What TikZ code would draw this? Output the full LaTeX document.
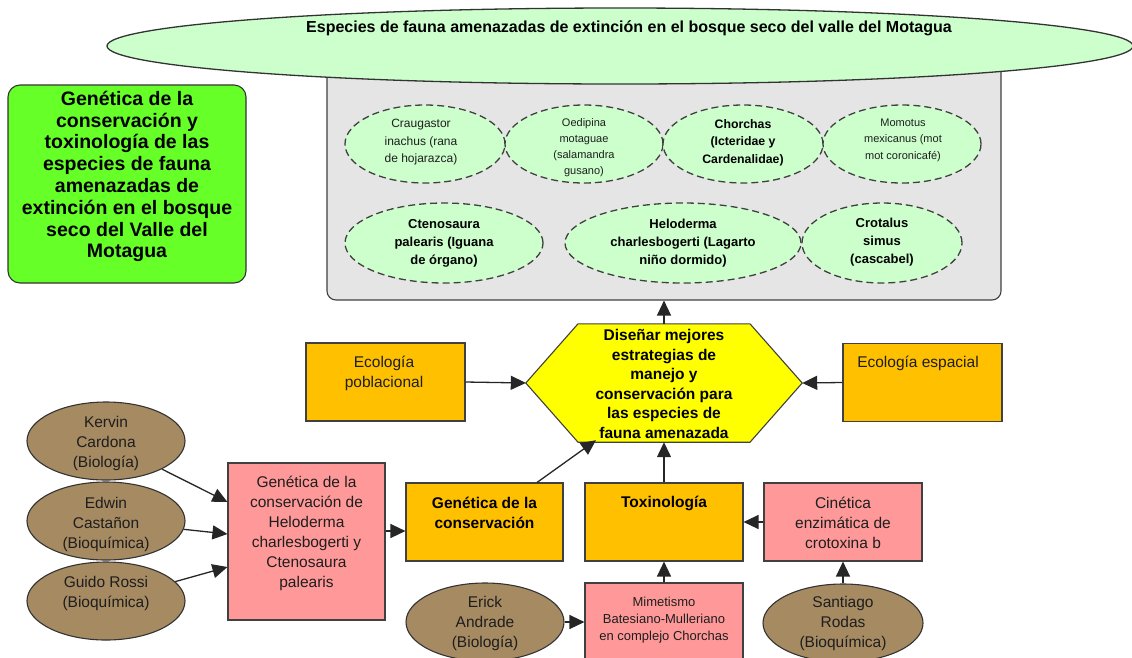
\documentclass[tikz,border=0pt]{standalone}
\usepackage{fontspec}
\setmainfont{Liberation Sans}
\usetikzlibrary{arrows.meta,shapes.geometric}

\definecolor{lgreen}{RGB}{204,255,204}
\definecolor{panelgray}{RGB}{229,229,229}
\definecolor{vivid}{RGB}{102,255,40}
\definecolor{amber}{RGB}{255,192,0}
\definecolor{rose}{RGB}{255,153,153}
\definecolor{tan}{RGB}{165,138,98}
\definecolor{hexyellow}{RGB}{255,255,0}
\definecolor{ink}{RGB}{30,30,30}

\newcommand\fsz[2]{\fontsize{#1}{#2}\selectfont}

\begin{document}
\begin{tikzpicture}[x=1pt,y=-1pt,
  box/.style={rectangle, draw=black!75, line width=1.1pt, minimum width=158pt, minimum height=78pt, inner sep=0pt},
  orangebox/.style={box, fill=amber},
  pinkbox/.style={box, fill=rose},
  person/.style={ellipse, draw=black!80, line width=1.1pt, fill=tan, minimum width=158pt, minimum height=78pt, inner sep=0pt},
  species/.style={ellipse, draw=black!75, line width=1.3pt, dash pattern=on 7pt off 4pt, fill=lgreen, minimum height=78pt, inner sep=0pt},
  txt/.style={align=center, text=ink, inner sep=0pt},
  body/.style={txt, font=\fsz{15.5}{20}},
  arr/.style={draw=black!85, line width=1.3pt, -{Triangle[length=15pt,width=14pt]}}
]
\useasboundingbox (0,0) rectangle (1132,657);
\clip (0,0) rectangle (1132,657);

% panel holding the species
\node[rectangle, rounded corners=9pt, draw=black!75, line width=1.1pt, fill=panelgray,
      minimum width=674pt, minimum height=260pt, inner sep=0pt] (panel) at (664,170) {};

% heading ellipse
\node[ellipse, draw=black!80, line width=1.3pt, fill=lgreen, minimum width=1026pt,
      minimum height=76pt, inner sep=0pt] (title) at (620,46) {};
\node[txt, text=black, font=\bfseries\fsz{16}{19}] (title-t) at (629,28)
  {Especies de fauna amenazadas de extinción en el bosque seco del valle del Motagua};

% project title box
\node[rectangle, rounded corners=12pt, draw=black!80, line width=1.1pt, fill=vivid,
      minimum width=238pt, minimum height=198pt, inner sep=0pt] (main) at (127,184) {};
\node[txt, text=black, font=\bfseries\fsz{19.5}{21.8}] (main-t) at (127,176.5)
  {Genética de la\\conservación y\\toxinología de las\\especies de fauna\\amenazadas de\\extinción en el bosque\\seco del Valle del\\Motagua};

% species
\node[species, minimum width=160pt] (s1) at (425,144) {};
\node[txt, font=\fsz{12}{17.5}] (s1-t) at (421,142.5) {Craugastor\\inachus (rana\\de hojarazca)};
\node[species, minimum width=158pt] (s2) at (584,144) {};
\node[txt, font=\fsz{11}{16}] (s2-t) at (584,148) {Oedipina\\motaguae\\(salamandra\\gusano)};
\node[species, minimum width=160pt] (s3) at (743,144) {};
\node[txt, text=black, font=\bfseries\fsz{12.3}{17.5}] (s3-t) at (743,142.5) {Chorchas\\(Icteridae y\\Cardenalidae)};
\node[species, minimum width=158pt] (s4) at (902,144) {};
\node[txt, font=\fsz{11}{16.5}] (s4-t) at (903,140) {Momotus\\mexicanus (mot\\mot coronicafé)};
\node[species, minimum width=198pt, minimum height=80pt] (s5) at (444,243) {};
\node[txt, text=black, font=\bfseries\fsz{13}{18}] (s5-t) at (444,243) {Ctenosaura\\palearis (Iguana\\de órgano)};
\node[species, minimum width=236pt, minimum height=80pt] (s6) at (683,243) {};
\node[txt, text=black, font=\bfseries\fsz{13}{18}] (s6-t) at (683,243) {Heloderma\\charlesbogerti (Lagarto\\niño dormido)};
\node[species, minimum width=160pt, minimum height=80pt] (s7) at (882,243) {};
\node[txt, text=black, font=\bfseries\fsz{13}{18}] (s7-t) at (882,242) {Crotalus\\simus\\(cascabel)};

% central goal (hexagon)
\node[rectangle, minimum width=276pt, minimum height=118pt, inner sep=0pt] (hex) at (664,383) {};
\filldraw[fill=hexyellow, draw=black!75, line width=1.1pt]
  (hex.west) -- ([xshift=-86pt]hex.north) -- ([xshift=86pt]hex.north) -- (hex.east)
  -- ([xshift=86pt]hex.south) -- ([xshift=-86pt]hex.south) -- cycle;
\node[txt, text=black, font=\bfseries\fsz{15.5}{19.6}] (hex-t) at (664,384)
  {Diseñar mejores\\estrategias de\\manejo y\\conservación para\\las especies de\\fauna amenazada};

% research areas
\node[orangebox, minimum width=159pt] (pob) at (385.5,382) {};
\node[body] (pob-t) at (384,373) {Ecología\\poblacional};
\node[orangebox, minimum width=159pt] (esp) at (922.5,382.5) {};
\node[body] (esp-t) at (918,363) {Ecología espacial};
\node[orangebox, minimum width=157pt] (gen) at (484.5,522) {};
\node[body, text=black, font=\bfseries\fsz{15.5}{20}] (gen-t) at (484.5,513) {Genética de la\\conservación};
\node[orangebox] (tox) at (664,522) {};
\node[body, text=black, font=\bfseries\fsz{15.5}{20}] (tox-t) at (664,503) {Toxinología};

% projects
\node[pinkbox, minimum width=157pt, minimum height=157pt] (gcons) at (306.5,541.5) {};
\node[body] (gcons-t) at (306.5,533)
  {Genética de la\\conservación de\\Heloderma\\charlesbogerti y\\Ctenosaura\\palearis};
\node[pinkbox] (cin) at (843,522) {};
\node[body] (cin-t) at (843,523) {Cinética\\enzimática de\\crotoxina b};
\node[pinkbox] (mim) at (664,622) {};
\node[txt, font=\fsz{13}{17}] (mim-t) at (664,620) {Mimetismo\\Batesiano-Mulleriano\\en complejo Chorchas};

% researchers
\node[person] (ker) at (106,441) {};
\node[body] (ker-t) at (106,443) {Kervin\\Cardona\\(Biología)};
\node[person] (edw) at (106,521) {};
\node[body] (edw-t) at (106,524) {Edwin\\Castañon\\(Bioquímica)};
\node[person] (gui) at (106,601) {};
\node[body] (gui-t) at (106,593) {Guido Rossi\\(Bioquímica)};
\node[person] (eri) at (485,622) {};
\node[body] (eri-t) at (485,623) {Erick\\Andrade\\(Biología)};
\node[person, minimum width=160pt] (san) at (843,623) {};
\node[body] (san-t) at (843,623) {Santiago\\Rodas\\(Bioquímica)};

% connectors
\draw[arr] (hex.north) -- (panel.south);
\draw[arr] (pob.east) -- (hex.west);
\draw[arr] (esp.west) -- (hex.east);
\draw[arr] (tox.north) -- (hex.south);
\draw[arr] ([xshift=52.5pt]gen.north) -- ([xshift=-68pt,yshift=2pt]hex.south);
\draw[arr] (mim.north) -- (tox.south);
\draw[arr] (cin.west) -- (tox.east);
\draw[arr] (san.north) -- (cin.south);
\draw[arr] (eri.east) -- (mim.west);
\draw[arr] ([yshift=10.5pt]gcons.east) -- ([yshift=-9pt]gen.west);
\draw[arr] (ker) -- ([yshift=39.5pt]gcons.west);
\draw[arr] (edw) -- ([yshift=7.5pt]gcons.west);
\draw[arr] (gui) -- ([yshift=-25.5pt]gcons.west);
\end{tikzpicture}
\end{document}
